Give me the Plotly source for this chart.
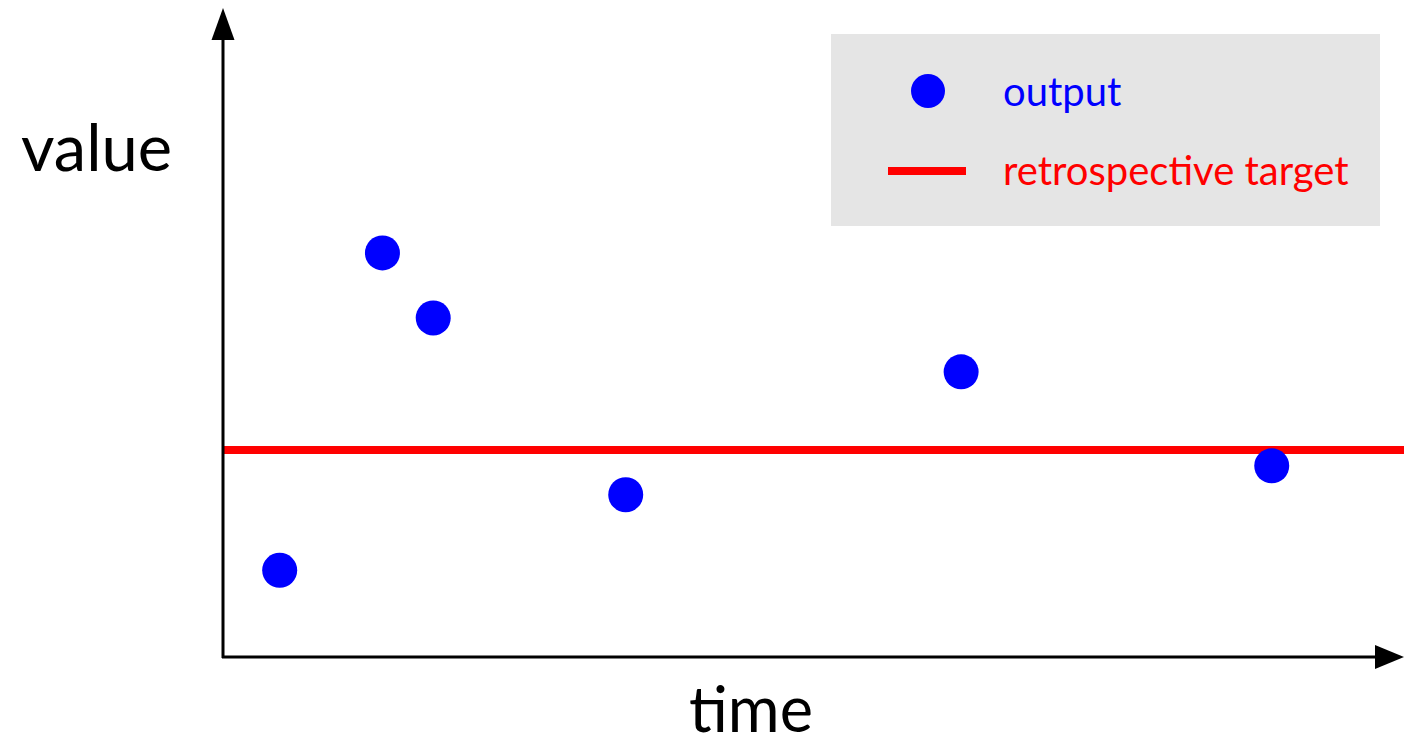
import plotly.graph_objects as go

# Data (arbitrary units)
time_vals = [0.48, 1.35, 1.78, 3.41, 6.25, 8.88]
output_vals = [1.32, 6.15, 5.16, 2.47, 4.34, 2.91]
target_value = 3.15
target_x = [0, 10]
series_names = ["output", "retrospective target"]
axis_titles = {"x": "time", "y": "value"}

FONT = "Lato"
BLUE = "#0000ff"
RED = "#ff0000"

W, H = 1404, 748
L, R, T, B = 223, 0, 0, 91
PW, PH = W - L - R, H - T - B


def px(xp):
    return (xp - L) / PW


def py(yp):
    return (H - B - yp) / PH


fig = go.Figure()
fig.add_trace(go.Scatter(
    x=target_x, y=[target_value] * len(target_x), mode="lines",
    line=dict(color=RED, width=8), name=series_names[1], showlegend=False,
    cliponaxis=False))
fig.add_trace(go.Scatter(
    x=time_vals, y=output_vals, mode="markers",
    marker=dict(color=BLUE, size=35, line=dict(width=0)),
    name=series_names[0], showlegend=False, cliponaxis=False))

shapes = []
# y axis line + arrow
shapes.append(dict(type="line", xref="paper", yref="paper",
                   x0=px(223), x1=px(223), y0=py(658), y1=py(38),
                   line=dict(color="black", width=3)))
shapes.append(dict(type="path", xref="paper", yref="paper",
                   path=f"M {px(223)} {py(8)} L {px(211.5)} {py(40)} L {px(234.5)} {py(40)} Z",
                   fillcolor="black", line=dict(width=0)))
# x axis line + arrow
shapes.append(dict(type="line", xref="paper", yref="paper",
                   x0=px(222), x1=px(1380), y0=py(657), y1=py(657),
                   line=dict(color="black", width=3)))
shapes.append(dict(type="path", xref="paper", yref="paper",
                   path=f"M {px(1404)} {py(657)} L {px(1375)} {py(645)} L {px(1375)} {py(669)} Z",
                   fillcolor="black", line=dict(width=0)))
# legend box
shapes.append(dict(type="rect", xref="paper", yref="paper",
                   x0=px(831), x1=px(1380), y0=py(34), y1=py(226),
                   fillcolor="#e5e5e5", line=dict(width=0), layer="below"))
# legend marker
shapes.append(dict(type="circle", xref="paper", yref="paper",
                   x0=px(911), x1=px(945), y0=py(74), y1=py(108),
                   fillcolor=BLUE, line=dict(width=0)))
# legend line
shapes.append(dict(type="line", xref="paper", yref="paper",
                   x0=px(888), x1=px(966), y0=py(171), y1=py(171),
                   line=dict(color=RED, width=8)))

annotations = [
    dict(text=series_names[0], xref="paper", yref="paper", x=px(1001), y=py(91),
         xanchor="left", yanchor="middle", showarrow=False,
         font=dict(family=FONT, size=40, color=BLUE)),
    dict(text=series_names[1], xref="paper", yref="paper", x=px(1001), y=py(170),
         xanchor="left", yanchor="middle", showarrow=False,
         font=dict(family=FONT, size=40, color=RED)),
    dict(text=axis_titles["y"], xref="paper", yref="paper", x=px(96), y=py(146),
         xanchor="center", yanchor="middle", showarrow=False,
         font=dict(family=FONT, size=65, color="black")),
    dict(text=axis_titles["x"], xref="paper", yref="paper", x=px(751), y=py(707),
         xanchor="center", yanchor="middle", showarrow=False,
         font=dict(family=FONT, size=63, color="black")),
]

fig.update_layout(
    width=W, height=H,
    margin=dict(l=L, r=R, t=T, b=B),
    paper_bgcolor="white", plot_bgcolor="white",
    xaxis=dict(range=[0, 10], visible=False, fixedrange=True),
    yaxis=dict(range=[0, 10], visible=False, fixedrange=True),
    shapes=shapes, annotations=annotations,
    showlegend=False,
)

fig.write_html("out.html", config={"displayModeBar": False},
               post_script="document.body.style.margin='0';document.body.style.overflow='hidden';")
